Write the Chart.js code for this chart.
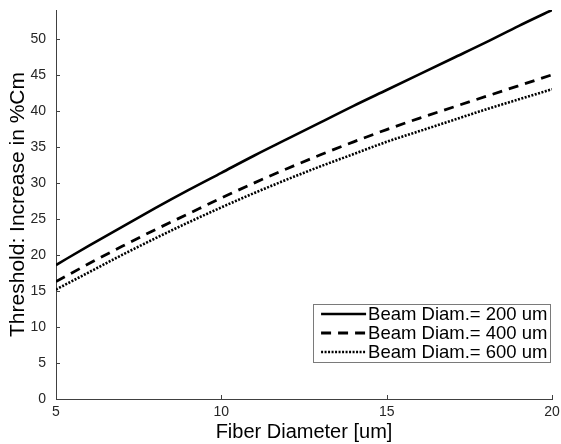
<!DOCTYPE html>
<html><head><meta charset="utf-8">
<script src="https://cdn.jsdelivr.net/npm/chart.js@4/dist/chart.umd.min.js"></script>
<style>html,body{margin:0;padding:0;background:#fff}</style>
</head><body>
<canvas id="c" width="561" height="444" style="width:561px;height:444px;display:block"></canvas>
<script>
const fiberDiameter = [5,6,7,8,9,10,11,12,13,14,15,16,17,18,19,20];
const beam200 = [18.6,21.3,23.9,26.5,29.0,31.4,33.8,36.1,38.4,40.7,42.9,45.1,47.3,49.5,51.8,54.0];
const beam400 = [16.3,18.8,21.2,23.5,25.7,27.9,30.0,32.0,33.9,35.7,37.4,39.0,40.5,42.0,43.5,45.0];
const beam600 = [15.2,17.6,20.0,22.3,24.5,26.6,28.6,30.5,32.3,34.0,35.7,37.2,38.7,40.2,41.6,43.0];
const seriesLabels = ['Beam Diam.= 200 um','Beam Diam.= 400 um','Beam Diam.= 600 um'];
const xTicks = [5,10,15,20];
const yTicks = [0,5,10,15,20,25,30,35,40,45,50];
const xTitle = 'Fiber Diameter [um]';
const yTitle = 'Threshold: Increase in %Cm';

const FONT = '"Liberation Sans", Arial, Helvetica, sans-serif';
const AX = '#404040';
const toPts = arr => arr.map((v,i)=>({x:fiberDiameter[i], y:v}));

const innerTicks = {
  id:'innerTicks',
  afterDatasetsDraw(chart){
    const ctx = chart.ctx, xs = chart.scales.x, ys = chart.scales.y;
    ctx.save();
    ctx.strokeStyle = AX; ctx.lineWidth = 1;
    ctx.beginPath();
    xs.ticks.forEach(t=>{ const p = Math.round(xs.getPixelForValue(t.value))+0.5; ctx.moveTo(p, ys.bottom); ctx.lineTo(p, ys.bottom-4); });
    ys.ticks.forEach(t=>{ const p = Math.round(ys.getPixelForValue(t.value))+0.5; ctx.moveTo(xs.left, p); ctx.lineTo(xs.left+4, p); });
    ctx.stroke();
    ctx.restore();
  }
};

const boxLegend = {
  id:'boxLegend',
  afterDraw(chart){
    const ctx = chart.ctx, ca = chart.chartArea;
    ctx.save();
    ctx.font = '18.5px ' + FONT;
    const ds = chart.data.datasets;
    let tw = 0; ds.forEach(d=>{ tw = Math.max(tw, ctx.measureText(d.label).width); });
    const padL = 8, sampleW = 45, gap = 2, padR = 3, rowH = 19, boxH = 58;
    const boxW = padL + sampleW + gap + tw + padR;
    const right = ca.right - 1.5, bottom = ca.bottom - 37;
    const left = right - boxW, top = bottom - boxH;
    ctx.fillStyle = '#fff';
    ctx.fillRect(left, top, boxW, boxH);
    ctx.strokeStyle = '#7a7a7a'; ctx.lineWidth = 1;
    ctx.strokeRect(Math.round(left)+0.5, Math.round(top)+0.5, Math.round(boxW), Math.round(boxH));
    ds.forEach((d,i)=>{
      const cy = top + 10 + i*rowH;
      ctx.beginPath();
      ctx.setLineDash(d.borderDash || []);
      ctx.lineWidth = d.borderWidth; ctx.strokeStyle = d.borderColor;
      ctx.moveTo(left+padL, cy); ctx.lineTo(left+padL+sampleW, cy);
      ctx.stroke();
      ctx.setLineDash([]);
      ctx.fillStyle = '#000'; ctx.textBaseline = 'middle'; ctx.textAlign = 'left';
      ctx.fillText(d.label, left+padL+sampleW+gap, cy+1);
    });
    ctx.restore();
  }
};

new Chart(document.getElementById('c'), {
  type:'line',
  data:{ datasets:[
    {label:seriesLabels[0], data:toPts(beam200), borderColor:'#000', borderWidth:2.6, pointRadius:0, cubicInterpolationMode:'monotone'},
    {label:seriesLabels[1], data:toPts(beam400), borderColor:'#000', borderWidth:2.8, borderDash:[10,7], pointRadius:0, cubicInterpolationMode:'monotone'},
    {label:seriesLabels[2], data:toPts(beam600), borderColor:'#000', borderWidth:2.6, borderDash:[2,1.5], pointRadius:0, cubicInterpolationMode:'monotone'}
  ]},
  options:{
    responsive:false, animation:false, devicePixelRatio:1,
    layout:{padding:{top:10,right:9,left:0,bottom:0}},
    plugins:{legend:{display:false}, tooltip:{enabled:false}},
    elements:{line:{borderCapStyle:'butt'}},
    scales:{
      x:{type:'linear', min:5, max:20,
        afterBuildTicks:s=>{ s.ticks = xTicks.map(v=>({value:v})); },
        afterFit:s=>{ s.height = 45; s.paddingLeft = 0; s.paddingRight = 0; },
        grid:{display:false, drawTicks:false, tickLength:0}, border:{display:true,color:AX,width:1},
        ticks:{padding:5, color:'#262626', font:{family:FONT,size:14}, maxRotation:0},
        title:{display:true, text:xTitle, color:'#000', font:{family:FONT,size:20}, padding:{top:0,bottom:0}}
      },
      y:{type:'linear', min:0, max:54,
        afterBuildTicks:s=>{ s.ticks = yTicks.map(v=>({value:v})); },
        afterFit:s=>{ s.width = 56; s.paddingTop = 0; s.paddingBottom = 0; },
        grid:{display:false, drawTicks:false, tickLength:0}, border:{display:true,color:AX,width:1},
        ticks:{padding:10, color:'#262626', font:{family:FONT,size:14}},
        title:{display:true, text:yTitle, color:'#000', font:{family:FONT,size:21}, padding:{top:6,bottom:0}}
      }
    }
  },
  plugins:[innerTicks, boxLegend]
});
</script>
</body></html>
